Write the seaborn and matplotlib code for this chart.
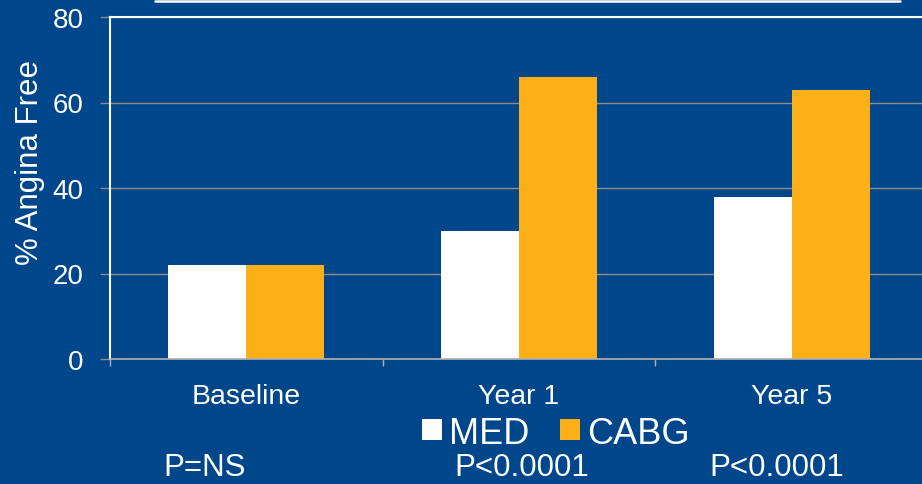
import matplotlib
matplotlib.use('Agg')
import matplotlib.pyplot as plt
import seaborn as sns
import pandas as pd
from matplotlib.patches import Patch
from matplotlib.lines import Line2D

categories = ['Baseline', 'Year 1', 'Year 5']
series_names = ['MED', 'CABG']
med_values = [22, 30, 38]
cabg_values = [22, 66, 63]
p_labels = ['P=NS', 'P<0.0001', 'P<0.0001']
y_ticks = [0, 20, 40, 60, 80]

df = pd.DataFrame({
    'Time': categories * 2,
    'Value': med_values + cabg_values,
    'Group': [series_names[0]] * 3 + [series_names[1]] * 3,
})

sns.set_theme(style='white')
plt.rcParams['font.family'] = ['Liberation Sans', 'DejaVu Sans']

bg = '#00468a'
orange = '#fcaf17'
gray = '#8c8c8c'

fig = plt.figure(figsize=(9.22, 4.85), dpi=100, facecolor=bg)
ax = fig.add_axes([110 / 922, 1 - 360 / 485, 818 / 922, 342 / 485])
ax.set_facecolor(bg)

sns.barplot(data=df, x='Time', y='Value', hue='Group', order=categories,
            hue_order=series_names, palette={'MED': 'white', 'CABG': orange},
            width=0.573, gap=0, saturation=1, ax=ax, legend=False,
            linewidth=0, edgecolor='none', errorbar=None)

ax.set_xlim(-0.5, 2.5)
ax.set_ylim(0, 80)
ax.set_yticks(y_ticks)
ax.yaxis.grid(True, color=gray, lw=1)
ax.set_axisbelow(True)

for s in ['left', 'top']:
    ax.spines[s].set_color('white')
    ax.spines[s].set_linewidth(1.5)
ax.spines['bottom'].set_color('#b0b0b0')
ax.spines['bottom'].set_linewidth(1.2)
ax.spines['right'].set_visible(False)

ax.tick_params(axis='y', length=7, width=1, color=gray, labelcolor='white',
               labelsize=20, pad=12, left=True)
ax.tick_params(axis='x', which='major', length=0, labelcolor='white',
               labelsize=20.5, pad=17)
ax.set_xticks([-0.5, 0.5, 1.5, 2.5], minor=True)
ax.tick_params(axis='x', which='minor', length=5, width=1, color='#b0b0b0',
               bottom=True)

ax.set_xlabel('')
ax.set_ylabel('% Angina Free', color='white', fontsize=22.5)
ax.yaxis.set_label_coords(-0.098, 0.5775)
ax.yaxis.label.set_va('center')

handles = [Patch(facecolor='white', edgecolor='none'),
           Patch(facecolor=orange, edgecolor='none')]
fig.legend(handles=handles, labels=series_names, loc='center',
           bbox_to_anchor=(556 / 922, 1 - 434 / 485), ncol=2, frameon=False,
           fontsize=26, handlelength=0.55, handleheight=0.5,
           handletextpad=0.2, columnspacing=0.86, labelcolor='white',
           borderpad=0, borderaxespad=0)

p_x = [205, 522, 777]
for x, t in zip(p_x, p_labels):
    fig.text(x / 922, 1 - 468 / 485, t, color='white', fontsize=22.5,
             ha='center', va='center')

fig.add_artist(Line2D([155 / 922, 900 / 922], [1 - 1.5 / 485, 1 - 1.5 / 485],
                      transform=fig.transFigure, color='white', lw=1.8))

fig.savefig('out.png', dpi=100, facecolor=bg)
